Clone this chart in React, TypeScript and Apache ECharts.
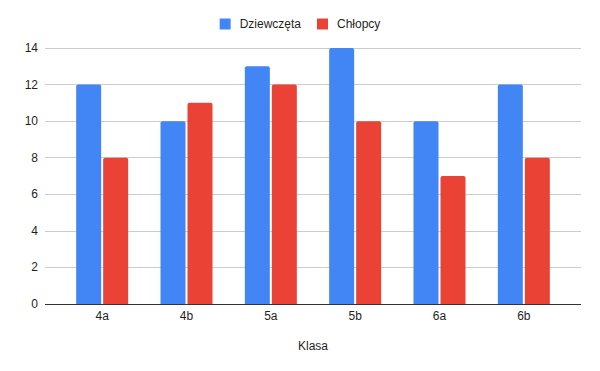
import React, { useEffect, useRef } from "react";
import * as echarts from "echarts";

const categories = ["4a", "4b", "5a", "5b", "6a", "6b"];
const girls = [12, 10, 13, 14, 10, 12];
const boys = [8, 11, 12, 10, 7, 8];
const seriesNames = ["Dziewczęta", "Chłopcy"];
const yMax = 14;
const yInterval = 2;

const FONT = "'Liberation Sans', Arial, sans-serif";
const TEXT = "#1f1f1f";

export default function App() {
  const ref = useRef<HTMLDivElement>(null);
  useEffect(() => {
    if (!ref.current) return;
    const chart = echarts.init(ref.current, undefined, { renderer: "svg" });
    chart.setOption({
      animation: false,
      textStyle: { fontFamily: FONT },
      legend: {
        top: 18,
        left: "center",
        padding: 0,
        itemWidth: 11,
        itemHeight: 11,
        itemGap: 16,
        icon: "rect",
        textStyle: { fontSize: 12, color: TEXT, fontFamily: FONT, padding: [0, 0, 0, 4] },
        data: seriesNames,
      },
      grid: [
        { left: 45, right: 19, top: 48, bottom: 67 },
        { left: 60, right: 34, top: 48, bottom: 67 },
      ],
      xAxis: [
        {
          type: "value",
          gridIndex: 0,
          min: 0,
          max: 1,
          show: true,
          axisLine: { show: false },
          axisTick: { show: false },
          axisLabel: { show: false },
          splitLine: { show: false },
        },
        {
          type: "category",
          gridIndex: 1,
          data: categories,
          axisLine: { show: false },
          axisTick: { show: false },
          axisLabel: { color: TEXT, fontSize: 12, margin: 6, fontFamily: FONT },
          name: "Klasa",
          nameLocation: "middle",
          nameGap: 36,
          nameTextStyle: { color: TEXT, fontSize: 12, fontFamily: FONT },
        },
      ],
      yAxis: [
        {
          type: "value",
          gridIndex: 0,
          min: 0,
          max: yMax,
          interval: yInterval,
          axisLine: { show: false },
          axisTick: { show: false },
          axisLabel: { color: TEXT, fontSize: 12, margin: 7, fontFamily: FONT },
          splitLine: { lineStyle: { color: "#cccccc", width: 1 } },
        },
        {
          type: "value",
          gridIndex: 1,
          min: 0,
          max: yMax,
          interval: yInterval,
          show: false,
          splitLine: { show: false },
        },
      ],
      series: [
        {
          name: seriesNames[0],
          type: "bar",
          xAxisIndex: 1,
          yAxisIndex: 1,
          data: girls,
          barWidth: 25,
          barGap: "8%",
          itemStyle: { color: "#4285F4", borderRadius: [2, 2, 0, 0] },
        },
        {
          name: seriesNames[1],
          type: "bar",
          xAxisIndex: 1,
          yAxisIndex: 1,
          data: boys,
          barWidth: 25,
          barGap: "8%",
          itemStyle: { color: "#EA4335", borderRadius: [2, 2, 0, 0] },
        },
        {
          type: "line",
          xAxisIndex: 0,
          yAxisIndex: 0,
          data: [],
          silent: true,
          markLine: {
            silent: true,
            symbol: "none",
            label: { show: false },
            lineStyle: { color: "#333", width: 1, type: "solid" },
            data: [{ yAxis: 0 }],
          },
        },
      ],
    });
    return () => chart.dispose();
  }, []);
  return <div ref={ref} style={{ width: 600, height: 371, position: "absolute", left: 0, top: 0 }} />;
}
